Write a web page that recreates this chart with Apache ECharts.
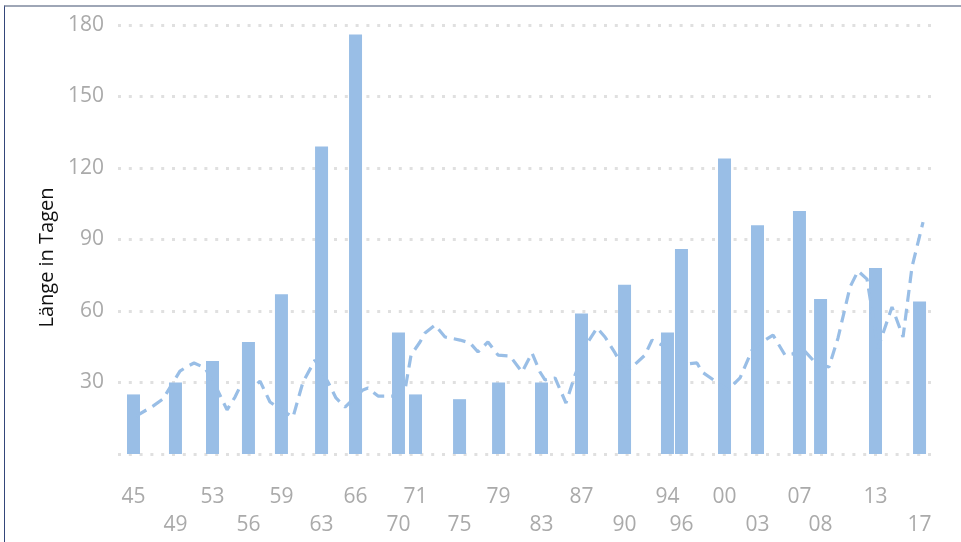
<!DOCTYPE html>
<html>
<head>
<meta charset="utf-8">
<script src="https://cdn.jsdelivr.net/npm/echarts@6/dist/echarts.min.js"></script>
<style>
  html, body { margin: 0; padding: 0; background: #fff; }
  #frame { position: absolute; left: 4px; top: 5px; right: 0; bottom: 0;
           border-top: 2px solid #9ea6b6; border-left: 1px solid #34467a; }
  #chart { position: absolute; left: 0; top: 0; width: 961px; height: 542px; }
</style>
</head>
<body>
<div id="frame"></div>
<div id="chart"></div>
<script>
  // election dates (decimal years) and label text
  var barYears = [1945.92, 1949.76, 1953.15, 1956.44, 1959.46, 1963.13, 1966.24, 1970.17, 1971.73,
                  1975.76, 1979.33, 1983.26, 1986.92, 1990.86, 1994.79, 1996.07, 2000.01, 2003.03,
                  2006.87, 2008.80, 2013.83, 2017.86];
  var yearLabels = ['45', '49', '53', '56', '59', '63', '66', '70', '71', '75', '79', '83', '87',
                    '90', '94', '96', '00', '03', '07', '08', '13', '17'];
  // Länge in Tagen
  var days = [25, 30, 39, 47, 67, 129, 176, 51, 25, 23, 30, 30, 59, 71, 51, 86, 124, 96, 102, 65, 78, 64];

  // dashed line
  var lineYears = [1946.15, 1947.70, 1948.62, 1950.17, 1950.91, 1951.46, 1952.46, 1953.56, 1954.48,
                   1955.21, 1955.57, 1956.12, 1957.50, 1958.41, 1959.88, 1960.52, 1961.43, 1962.53,
                   1963.72, 1964.45, 1965.28, 1966.92, 1967.38, 1968.30, 1969.58, 1970.77, 1971.32,
                   1972.14, 1972.60, 1973.51, 1974.43, 1975.80, 1976.72, 1977.45, 1978.36, 1979.28,
                   1980.38, 1981.48, 1982.39, 1983.12, 1983.58, 1984.50, 1985.50, 1986.33, 1987.52,
                   1988.34, 1989.07, 1989.99, 1990.45, 1991.36, 1992.73, 1993.37, 1994.29, 1995.30,
                   1996.67, 1997.49, 1997.95, 1999.41, 2000.33, 2001.43, 2002.53, 2003.44, 2004.45,
                   2005.55, 2006.28, 2006.92, 2008.11, 2008.93, 2009.57, 2010.40, 2011.50, 2012.23,
                   2013.05, 2014.06, 2015.34, 2016.35, 2017.17, 2018.18];
  var lineValues = [15.9, 20.1, 23.1, 34.8, 36.9, 38.2, 36.1, 27.3, 18.5,
                    23.9, 27.3, 24.8, 30.6, 21.8, 17.2, 15.5, 30.2, 39.4,
                    30.2, 23.5, 19.7, 26.9, 27.7, 24.3, 24.3, 26.9, 41.5,
                    47.0, 50.8, 54.1, 49.1, 47.8, 46.6, 42.8, 47.0, 41.5,
                    41.1, 34.4, 42.4, 34.4, 31.1, 31.9, 21.4, 33.1, 47.0,
                    52.9, 49.1, 42.4, 38.6, 35.7, 41.5, 47.8, 45.7, 44.5,
                    37.8, 38.2, 34.4, 29.8, 26.9, 31.9, 43.6, 47.0, 49.9,
                    41.5, 42.0, 45.3, 39.4, 37.3, 36.5, 48.7, 70.1, 76.8,
                    73.4, 44.5, 61.7, 49.1, 78.5, 97.3];

  var barColor = '#99bee6';
  var greyText = '#aaaaaa';

  var barData = barYears.map(function (y, i) { return [y, days[i]]; });
  var lineData = lineYears.map(function (y, i) { return [y, lineValues[i]]; });

  var chart = echarts.init(document.getElementById('chart'));
  chart.setOption({
    animation: false,
    grid: { left: 118, right: 29, top: 25, bottom: 88 },
    xAxis: {
      type: 'value',
      min: 1944.5,
      max: 2019,
      axisLine: { show: false },
      axisTick: { show: false },
      splitLine: { show: false },
      axisLabel: {
        customValues: barYears,
        margin: 29,
        color: greyText,
        fontFamily: 'Open Sans',
        fontSize: 21,
        lineHeight: 28,
        formatter: function (v) {
          for (var i = 0; i < barYears.length; i++) {
            if (Math.abs(barYears[i] - v) < 1e-6) {
              return i % 2 === 0 ? yearLabels[i] : '\n' + yearLabels[i];
            }
          }
          return '';
        }
      }
    },
    yAxis: {
      type: 'value',
      min: 0,
      max: 180,
      interval: 30,
      name: 'Länge in Tagen',
      nameLocation: 'middle',
      nameGap: 60,
      nameTextStyle: {
        color: '#111', fontFamily: 'Open Sans', fontSize: 20,
        padding: [0, 36, 0, 0]
      },
      axisLine: { show: false },
      axisTick: { show: false },
      axisLabel: {
        margin: 14,
        color: greyText,
        fontFamily: 'Open Sans',
        fontSize: 21,
        formatter: function (v) { return v === 0 ? '' : v; }
      },
      splitLine: {
        lineStyle: { color: '#e0e0e0', width: 3, type: [3, 7.8] }
      }
    },
    series: [
      {
        type: 'bar',
        data: barData,
        barWidth: 13,
        itemStyle: { color: barColor }
      },
      {
        type: 'line',
        data: lineData,
        showSymbol: false,
        lineStyle: { color: barColor, width: 3.2, type: [12, 7] }
      }
    ]
  });
</script>
</body>
</html>
